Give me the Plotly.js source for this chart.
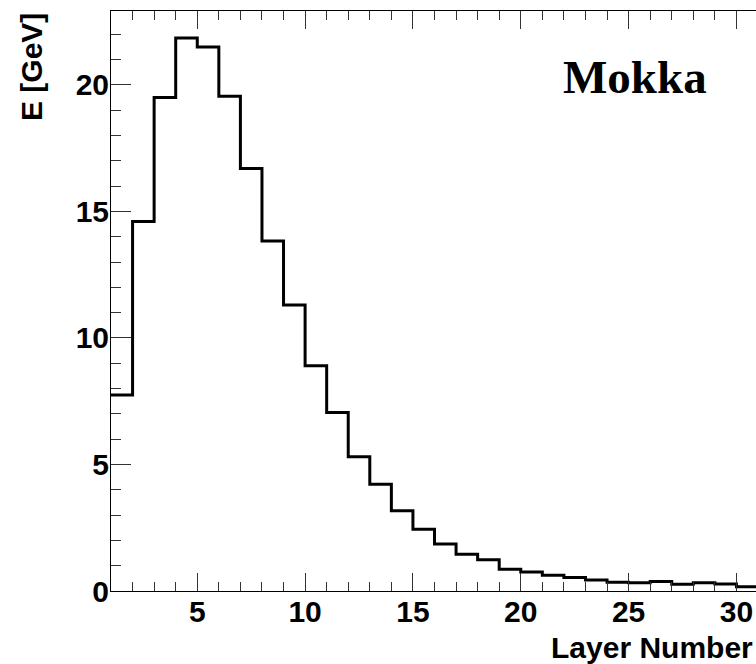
<!DOCTYPE html>
<html>
<head>
<meta charset="utf-8">
<script src="https://cdn.plot.ly/plotly-3.0.1.min.js"></script>
<style>
  html, body { margin: 0; padding: 0; background: #fff; overflow: hidden; }
  #chart { width: 760px; height: 664px; }
</style>
</head>
<body>
<div id="chart"></div>
<script>
// Longitudinal shower profile: energy deposited per calorimeter layer
const layerLowEdges = [1, 2, 3, 4, 5, 6, 7, 8, 9, 10, 11, 12, 13, 14, 15,
                       16, 17, 18, 19, 20, 21, 22, 23, 24, 25, 26, 27, 28, 29, 30];
const energyGeV = [7.75, 14.6, 19.5, 21.85, 21.5, 19.55, 16.7, 13.83, 11.3, 8.9,
                   7.05, 5.31, 4.22, 3.17, 2.44, 1.86, 1.45, 1.23, 0.86, 0.75,
                   0.62, 0.53, 0.43, 0.35, 0.33, 0.38, 0.27, 0.33, 0.28, 0.17];
const binWidth = 1;
const xTitle = 'Layer Number';
const yTitle = 'E [GeV]';
const label = 'Mokka';

// Step outline: each bin's value holds from its low edge to the next edge
const stepX = layerLowEdges.concat([layerLowEdges[layerLowEdges.length - 1] + binWidth]);
const stepY = energyGeV.concat([energyGeV[energyGeV.length - 1]]);

const axisFont = { family: 'Liberation Sans, Arial, sans-serif', size: 30, color: '#000', weight: 'bold' };

const trace = {
  type: 'scatter',
  mode: 'lines',
  x: stepX,
  y: stepY,
  line: { shape: 'hv', color: '#000', width: 3 },
  hoverinfo: 'skip'
};

const layout = {
  width: 760,
  height: 664,
  margin: { l: 111, r: 2, t: 11, b: 73 },
  paper_bgcolor: '#fff',
  plot_bgcolor: '#fff',
  showlegend: false,
  xaxis: {
    range: [1, 31],
    showgrid: false,
    zeroline: false,
    showline: true,
    linecolor: '#000',
    linewidth: 1,
    mirror: 'ticks',
    ticks: 'inside',
    tickmode: 'linear',
    tick0: 0,
    dtick: 5,
    ticklen: 18,
    tickwidth: 1,
    tickcolor: '#333',
    tickfont: axisFont,
    ticklabelstandoff: -6,
    minor: { ticks: 'inside', dtick: 1, tick0: 0, ticklen: 9, tickwidth: 1, tickcolor: '#333' }
  },
  yaxis: {
    range: [0, 22.92],
    showgrid: false,
    zeroline: false,
    showline: true,
    linecolor: '#000',
    linewidth: 1,
    ticks: 'inside',
    tickmode: 'linear',
    tick0: 0,
    dtick: 5,
    ticklen: 20,
    tickwidth: 1,
    tickcolor: '#333',
    tickfont: axisFont,
    ticklabelstandoff: -5,
    minor: { ticks: 'inside', dtick: 1, tick0: 0, ticklen: 10, tickwidth: 1, tickcolor: '#333' }
  },
  annotations: [
    {
      text: xTitle, xref: 'paper', yref: 'paper',
      x: 0.996, y: -0.066, xanchor: 'right', yanchor: 'top',
      showarrow: false, font: axisFont
    },
    {
      text: yTitle, xref: 'paper', yref: 'paper',
      x: -0.1236, y: 1.0, xanchor: 'center', yanchor: 'top', textangle: -90,
      showarrow: false, font: axisFont
    },
    {
      text: label, xref: 'paper', yref: 'paper',
      x: 0.81, y: 0.886, xanchor: 'center', yanchor: 'middle',
      showarrow: false,
      font: { family: 'Liberation Serif, Times New Roman, serif', size: 47, color: '#000', weight: 'bold' }
    }
  ]
};

Plotly.newPlot('chart', [trace], layout, { staticPlot: true, displayModeBar: false });
</script>
</body>
</html>
